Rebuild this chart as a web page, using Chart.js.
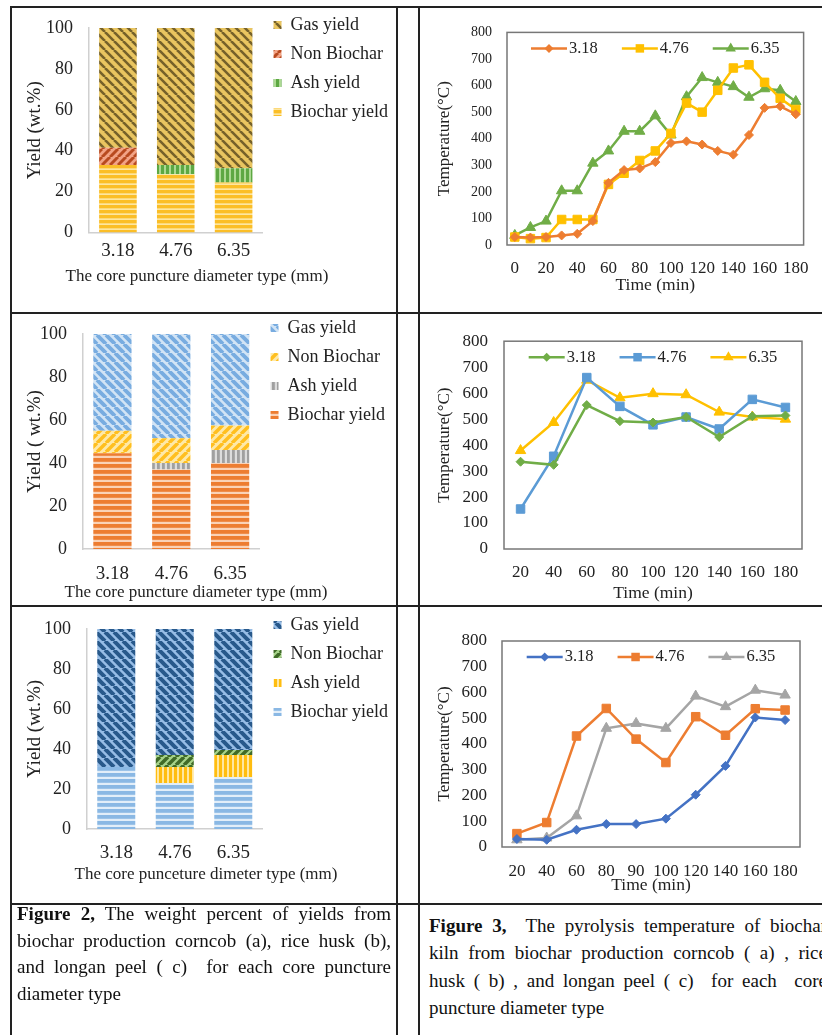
<!DOCTYPE html>
<html>
<head>
<meta charset="utf-8">
<script src="https://cdn.jsdelivr.net/npm/chart.js@4/dist/chart.umd.min.js"></script>
<style>
  html, body { margin: 0; padding: 0; background: #fff; }
  body { width: 822px; height: 1035px; position: relative; overflow: hidden;
         font-family: "Liberation Serif", "Times New Roman", serif; color: #111; }
  .hl, .vl { position: absolute; background: #222; }
  .hl { left: 10px; width: 830px; height: 2px; }
  .vl { top: 6px; width: 2px; height: 1040px; }
  canvas { position: absolute; }
  .cap { position: absolute; font-size: 19px; }
  .cap .j { text-align: justify; text-align-last: justify; }
</style>
</head>
<body>
<div class="hl" style="top:6px"></div>
<div class="hl" style="top:312px"></div>
<div class="hl" style="top:605px"></div>
<div class="hl" style="top:903px"></div>
<div class="vl" style="left:10px"></div>
<div class="vl" style="left:396px"></div>
<div class="vl" style="left:418px"></div>

<canvas id="yieldCorn" width="382" height="304" style="left:6px;top:5px"></canvas>
<canvas id="yieldRice" width="378" height="297" style="left:7px;top:308px"></canvas>
<canvas id="yieldLongan" width="364" height="297" style="left:24px;top:605px"></canvas>
<canvas id="tempCorn" width="401" height="300" style="left:421px;top:9px"></canvas>
<canvas id="tempRice" width="401" height="290" style="left:421px;top:315px"></canvas>
<canvas id="tempLongan" width="401" height="294" style="left:421px;top:608px"></canvas>

<div class="cap" style="left:17px;top:901px;width:374px;line-height:26.5px">
  <div class="j"><b>Figure 2,</b> The weight percent of yields from</div>
  <div class="j">biochar production corncob (a), rice husk (b),</div>
  <div class="j">and longan peel ( c)&nbsp; for each core puncture</div>
  <div>diameter type</div>
</div>
<div class="cap" style="left:429px;top:912px;width:398px;line-height:27.3px">
  <div class="j"><b>Figure 3,</b>&nbsp; The pyrolysis temperature of biochar</div>
  <div class="j">kiln from biochar production corncob ( a) , rice</div>
  <div class="j">husk ( b) , and longan peel ( c)&nbsp; for each&nbsp; core</div>
  <div>puncture diameter type</div>
</div>

<script>
// ---- data ----
const diameters = ['3.18', '4.76', '6.35'];
const yieldNames = ['Biochar yield', 'Ash yield', 'Non Biochar', 'Gas yield'];

// Figure 2 (a) corncob, wt.%
const cornBiochar = [33, 28.5, 24.5];
const cornAsh = [0, 4.5, 7];
const cornNonBiochar = [8.5, 0, 0];
const cornGas = [58.5, 67, 68.5];
// (b) rice husk
const riceBiochar = [44.5, 37, 40];
const riceAsh = [0, 3, 6];
const riceNonBiochar = [10.5, 11.5, 11.5];
const riceGas = [45, 48.5, 42.5];
// (c) longan peel
const longanBiochar = [31, 23, 26];
const longanAsh = [0, 8, 11];
const longanNonBiochar = [0, 6, 2.5];
const longanGas = [69, 63, 60.5];

// Figure 3 temperatures (°C)
const timeCorn = [0, 10, 20, 30, 40, 50, 60, 70, 80, 90, 100, 110, 120, 130, 140, 150, 160, 170, 180];
const timeCornTicks = [0, 20, 40, 60, 80, 100, 120, 140, 160, 180];
const corn318 = [30, 28, 30, 36, 42, 90, 234, 282, 288, 312, 384, 390, 378, 354, 340, 414, 516, 522, 492];
const corn476 = [30, 24, 28, 96, 96, 96, 228, 270, 318, 354, 420, 534, 500, 582, 666, 678, 612, 552, 510];
const corn635 = [36, 66, 90, 204, 204, 308, 354, 428, 428, 486, 414, 558, 630, 612, 596, 556, 588, 582, 540];

const timeRice = [20, 40, 60, 80, 100, 120, 140, 160, 180];
const rice318 = [336, 324, 554, 492, 487, 508, 431, 511, 514];
const rice476 = [154, 357, 660, 549, 478, 508, 462, 576, 545];
const rice635 = [379, 487, 650, 582, 598, 594, 527, 508, 500];

const timeLongan = [20, 40, 60, 80, 90, 100, 120, 140, 160, 180];
const longan318 = [31, 28, 67, 89, 89, 110, 203, 315, 503, 493];
const longan476 = [52, 95, 431, 538, 419, 328, 506, 434, 537, 532];
const longan635 = [28, 35, 121, 461, 480, 461, 586, 545, 609, 590];

const SERIF = '"Liberation Serif", "Times New Roman", serif';
Chart.defaults.font.family = SERIF;
Chart.defaults.color = '#222';

// striped fills like the excel pattern fills
function stripes(bg, fg, dir, s, lw) {
  const c = document.createElement('canvas');
  c.width = c.height = s;
  const g = c.getContext('2d');
  g.fillStyle = bg;
  g.fillRect(0, 0, s, s);
  g.fillStyle = fg;
  g.strokeStyle = fg;
  g.lineWidth = lw;
  if (dir === 'h') g.fillRect(0, 0, s, lw);
  else if (dir === 'v') g.fillRect(0, 0, lw, s);
  else {
    g.beginPath();
    for (const o of [-s, 0, s]) {
      if (dir === 'd') { g.moveTo(o, 0); g.lineTo(o + s, s); }
      else { g.moveTo(o, s); g.lineTo(o + s, 0); }
    }
    g.stroke();
  }
  return g.createPattern(c, 'repeat');
}

function barChart(id, series, fills, cfg) {
  return new Chart(document.getElementById(id), {
    type: 'bar',
    data: {
      labels: diameters,
      datasets: series.map((d, i) => ({
        label: yieldNames[i], data: d, backgroundColor: fills[i],
        borderWidth: 0, barPercentage: 0.65, categoryPercentage: 1
      }))
    },
    options: {
      responsive: false,
      animation: false,
      // negative side padding lets the legend sit closer to the plot
      layout: { padding: { left: -10, right: -10, top: 0, bottom: 0 } },
      plugins: {
        legend: {
          position: 'right', align: 'start', reverse: true, maxWidth: 170,
          labels: { boxWidth: 8, boxHeight: 8, padding: 11, color: '#222', font: { size: 18 } }
        },
        title: {
          display: true, position: 'bottom', text: cfg.xTitle, color: '#222',
          font: { size: 17, weight: 'normal' }, padding: { top: 0, bottom: cfg.titleBottom }
        },
        tooltip: { enabled: false }
      },
      scales: {
        x: {
          stacked: true,
          grid: { display: false, drawTicks: false },
          border: { color: '#d0d0d0', width: 1.5 },
          ticks: { font: { size: 19 }, padding: cfg.xPad, color: '#222' },
          afterFit: s => { s.height = cfg.xh; }
        },
        y: {
          stacked: true, min: 0, max: 100,
          grid: { display: false, drawTicks: false },
          border: { color: '#d0d0d0', width: 1.5 },
          ticks: { stepSize: 20, font: { size: 18 }, padding: 16, color: '#222' },
          title: { display: true, text: cfg.yTitle, color: '#222', font: { size: 19 }, padding: { top: cfg.yTitlePad + 10, bottom: 0 } },
          afterFit: s => { s.width = cfg.yw + 10; s.paddingTop = cfg.top; }
        }
      }
    }
  });
}

// frame round the plot area plus the legend that sits inside it
const plotFrame = {
  id: 'plotFrame',
  beforeDatasetsDraw(chart) {
    const { ctx, chartArea: a } = chart;
    ctx.save();
    ctx.strokeStyle = '#777';
    ctx.lineWidth = 1.5;
    ctx.strokeRect(a.left, a.top, a.right - a.left, a.bottom - a.top);
    ctx.restore();
  },
  afterDatasetsDraw(chart) {
    const { ctx, chartArea: a } = chart;
    const lineLen = 36, gap = 24;
    ctx.save();
    ctx.font = '16.5px ' + SERIF;
    const items = chart.data.datasets.map(ds => ({ ds, w: lineLen + 2 + ctx.measureText(ds.label).width }));
    const total = items.reduce((t, it) => t + it.w, 0) + gap * (items.length - 1);
    let x = (a.left + a.right) / 2 - total / 2;
    const y = a.top + 16;
    items.forEach(({ ds, w }) => {
      ctx.strokeStyle = ds.borderColor;
      ctx.lineWidth = ds.borderWidth;
      ctx.beginPath();
      ctx.moveTo(x, y);
      ctx.lineTo(x + lineLen, y);
      ctx.stroke();
      ctx.fillStyle = ds.borderColor;
      Chart.helpers.drawPoint(ctx, { pointStyle: ds.pointStyle, radius: ds.pointRadius, rotation: 0, borderWidth: 0 }, x + lineLen / 2, y);
      ctx.fillStyle = '#222';
      ctx.textBaseline = 'middle';
      ctx.fillText(ds.label, x + lineLen + 2, y);
      x += w + gap;
    });
    ctx.restore();
  }
};

function tempChart(id, times, series, colors, cfg) {
  const styles = ['rectRot', 'rect', 'triangle'];
  const radii = [4.5, 6, 6];
  return new Chart(document.getElementById(id), {
    type: 'line',
    data: {
      labels: times,
      datasets: series.map((d, i) => ({
        label: diameters[i], data: d,
        borderColor: colors[i], backgroundColor: colors[i],
        pointBackgroundColor: colors[i], pointBorderColor: colors[i], pointBorderWidth: 1,
        borderWidth: 2.5, tension: 0,
        pointStyle: styles[i], pointRadius: radii[i]
      }))
    },
    options: {
      responsive: false,
      animation: false,
      layout: { padding: { top: cfg.top, right: cfg.right, left: 0, bottom: 0 } },
      plugins: { legend: { display: false }, tooltip: { enabled: false } },
      scales: {
        x: {
          offset: true,
          grid: { display: false, drawTicks: false },
          border: { display: false },
          ticks: {
            autoSkip: false, maxRotation: 0, font: { size: 17 }, padding: cfg.xPad, color: '#222',
            callback: function (v) {
              const lab = this.getLabelForValue(v);
              return (!cfg.shown || cfg.shown.includes(lab)) ? String(lab) : '';
            }
          },
          title: { display: true, text: 'Time (min)', color: '#222', font: { size: 17.5 }, padding: { top: 0, bottom: cfg.xTitleBottom } },
          afterFit: s => { s.height = cfg.xh; }
        },
        y: {
          min: 0, max: 800,
          grid: { display: false, drawTicks: false },
          border: { display: false },
          ticks: { stepSize: 100, font: { size: cfg.ySize }, padding: cfg.yPad, color: '#222' },
          title: { display: true, text: 'Temperature(°C)', color: '#222', font: { size: 17 }, padding: { top: 13.8, bottom: 0 } },
          afterFit: s => { s.width = cfg.yw; }
        }
      }
    },
    plugins: [plotFrame]
  });
}

// ---- Figure 2 ----
barChart('yieldCorn', [cornBiochar, cornAsh, cornNonBiochar, cornGas], [
  stripes('#fde6a0', '#fbbe27', 'h', 5, 3.3),
  stripes('#acd993', '#5da843', 'v', 5, 3),
  stripes('#f2a385', '#b84a1f', 'u', 8, 3),
  stripes('#e9c560', '#75612a', 'd', 9, 2.6)
], { xTitle: 'The core puncture diameter type (mm)', yTitle: 'Yield (wt.%)',
     yw: 83, top: 23, xh: 34, xPad: 7, titleBottom: 22, yTitlePad: 18 });

barChart('yieldRice', [riceBiochar, riceAsh, riceNonBiochar, riceGas], [
  stripes('#fad2b6', '#ed7d31', 'h', 6, 3.8),
  stripes('#dcdcdc', '#a0a0a0', 'v', 5, 2.8),
  stripes('#fee9a8', '#ffbf1f', 'u', 9, 3.5),
  stripes('#d2e4f5', '#78ace0', 'd', 9, 3.8)
], { xTitle: 'The core puncture diameter type (mm)', yTitle: 'Yield ( wt.%)',
     yw: 76, top: 26, xh: 33.6, xPad: 14, titleBottom: 2, yTitlePad: 17 });

barChart('yieldLongan', [longanBiochar, longanAsh, longanNonBiochar, longanGas], [
  stripes('#e2eef9', '#8ab8e4', 'h', 6, 3.8),
  stripes('#ffe7a0', '#ffbd10', 'v', 5, 3),
  stripes('#a7d38a', '#3f6a27', 'u', 8, 3.5),
  stripes('#97bde6', '#28598b', 'd', 9, 4)
], { xTitle: 'The core punceture dimeter type (mm)', yTitle: 'Yield (wt.%)',
     yw: 63, top: 24, xh: 35.6, xPad: 13, titleBottom: 17, yTitlePad: 0 });

// ---- Figure 3 ----
tempChart('tempCorn', timeCorn, [corn318, corn476, corn635], ['#ed7d31', '#ffc000', '#70ad47'],
  { top: 14, right: 17, yw: 86, xh: 64, xPad: 13, xTitleBottom: 13.5, ySize: 14, yPad: 15, shown: timeCornTicks });

tempChart('tempRice', timeRice, [rice318, rice476, rice635], ['#70ad47', '#5b9bd5', '#ffc000'],
  { top: 18, right: 20, yw: 83, xh: 56, xPad: 13, xTitleBottom: 1.5, ySize: 17, yPad: 16 });

tempChart('tempLongan', timeLongan, [longan318, longan476, longan635], ['#4472c4', '#ed7d31', '#a5a5a5'],
  { top: 33, right: 22, yw: 81, xh: 55, xPad: 14, xTitleBottom: 6.5, ySize: 17, yPad: 15 });
</script>
</body>
</html>
